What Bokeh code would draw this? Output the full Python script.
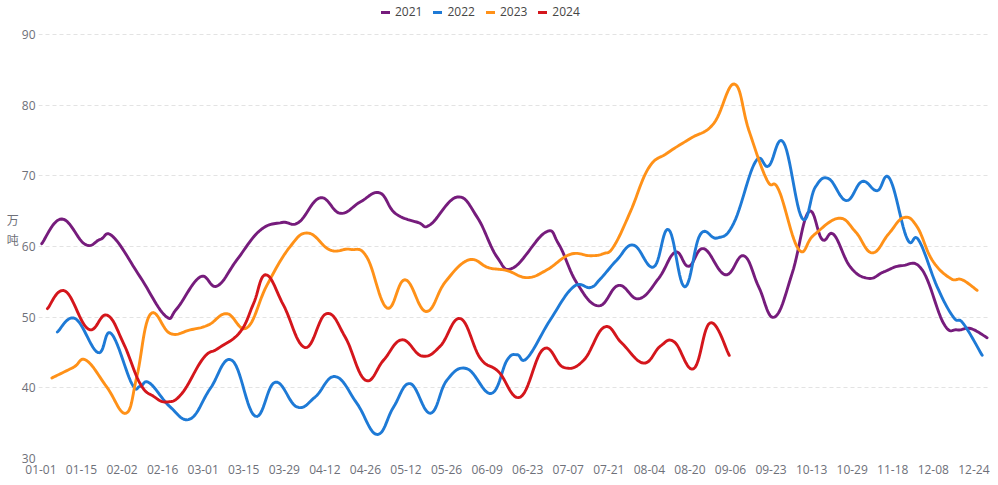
import numpy as np
from bokeh.plotting import figure
from bokeh.models import FixedTicker, Range1d
from bokeh.embed import file_html
from bokeh.resources import INLINE

# ---- data (x in weeks from 01-01, values in 万吨) ----
tick_labels = ["01-01", "01-15", "02-02", "02-16", "03-01", "03-15", "03-29", "04-12",
               "04-26", "05-12", "05-26", "06-09", "06-23", "07-07", "07-21", "08-04",
               "08-20", "09-06", "09-23", "10-13", "10-29", "11-18", "12-08", "12-24"]
tick_pos = [2 * i for i in range(len(tick_labels))]
y_ticks = [30, 40, 50, 60, 70, 80, 90]

x2021 = [0.04, 1.03, 2.18, 2.92, 3.55, 4.89, 6.13, 6.70, 7.85, 8.68, 9.66, 10.81, 11.88, 12.70,
         13.77, 14.76, 15.74, 16.70, 17.47, 18.60, 19.20, 20.51, 21.50, 22.49, 23.30, 24.87,
         25.52, 26.43, 27.50, 28.48, 29.47, 30.46, 31.28, 31.94, 32.68, 33.75, 34.65, 35.39,
         36.16, 37.04, 37.85, 38.52, 39.09, 39.91, 40.81, 41.55, 42.46, 43.45, 44.51, 45.17,
         45.83, 46.65]
y2021 = [60.4, 63.9, 60.3, 61.0, 61.4, 55.7, 50.2, 51.2, 55.7, 54.4, 58.1, 62.3, 63.4, 63.4,
         66.9, 64.7, 66.3, 67.6, 64.7, 63.4, 63.1, 67.0, 64.2, 58.5, 57.0, 62.0,
         60.4, 54.8, 51.6, 54.5, 52.6, 55.5, 59.2, 57.2, 59.7, 56.0, 58.7, 54.3,
         50.0, 56.2, 64.9, 61.0, 61.7, 57.1, 55.5, 56.4, 57.3, 56.7, 49.1, 48.2,
         48.4, 47.1]

x2022 = [0.81, 1.69, 2.81, 3.46, 4.48, 4.89, 5.35, 6.37, 7.36, 8.35, 9.42, 10.56, 11.55, 12.62,
         13.52, 14.51, 15.58, 16.57, 17.39, 18.21, 19.20, 20.02, 21.01, 22.20, 22.98, 23.47,
         23.97, 25.11, 26.26, 27.09, 27.58, 28.40, 29.22, 30.21, 30.95, 31.74, 32.51, 33.34,
         34.16, 35.23, 35.88, 36.62, 37.53, 38.18, 38.84, 39.71, 40.49, 41.23, 41.85, 42.71,
         43.28, 44.19, 44.99, 45.48, 46.41]
y2022 = [47.9, 49.8, 45.0, 47.7, 40.6, 40.2, 40.7, 37.3, 35.6, 39.9, 43.9, 36.0, 40.8, 37.3,
         38.7, 41.6, 37.8, 33.4, 37.3, 40.6, 36.4, 41.1, 42.7, 39.2, 43.9, 44.7,
         44.2, 49.6, 54.3, 54.2, 55.4, 58.1, 60.2, 57.1, 62.4, 54.3, 61.7, 61.2,
         63.3, 72.0, 71.4, 74.7, 64.0, 68.4, 69.6, 66.5, 69.2, 67.9, 69.6, 61.1,
         60.9, 54.3, 50.0, 49.1, 44.6]

x2023 = [0.54, 1.60, 2.23, 3.25, 4.19, 4.73, 5.39, 6.37, 7.36, 8.26, 9.17, 10.16, 11.14, 12.29,
         13.19, 14.26, 15.25, 16.07, 17.06, 17.96, 18.99, 19.94, 21.09, 22.07, 22.98, 23.97,
         24.95, 26.10, 27.09, 27.74, 28.24, 29.06, 29.96, 30.87, 32.02, 33.17, 34.19, 34.90,
         35.80, 36.38, 37.36, 38.10, 39.33, 40.16, 40.98, 41.80, 42.54, 43.20, 43.94, 44.84,
         45.42, 46.16]
y2023 = [41.4, 42.9, 43.9, 40.1, 36.4, 41.6, 50.4, 47.7, 48.2, 48.9, 50.5, 48.5, 54.5, 60.0,
         61.9, 59.5, 59.6, 58.5, 51.3, 55.3, 50.8, 55.0, 58.1, 57.0, 56.6, 55.6,
         56.7, 58.9, 58.7, 59.0, 60.0, 64.9, 71.1, 73.2, 75.3, 77.4, 83.0, 76.5,
         69.4, 68.0, 59.6, 61.6, 64.0, 62.1, 59.1, 61.8, 64.1, 62.8, 58.1, 55.5,
         55.3, 53.8]

x2024 = [0.32, 1.19, 2.34, 3.25, 4.07, 4.89, 5.55, 6.21, 6.95, 8.01, 8.75, 9.82, 10.48, 11.09,
         11.96, 13.03, 14.07, 15.00, 15.99, 16.89, 17.80, 18.79, 19.69, 20.68, 21.66, 22.56,
         23.64, 24.78, 25.77, 26.76, 27.78, 28.65, 29.72, 30.54, 31.23, 32.18, 33.00, 33.94]
y2024 = [51.2, 53.7, 48.3, 50.3, 46.3, 40.6, 38.8, 38.0, 39.2, 44.2, 45.6, 47.9, 51.9, 56.0,
         51.7, 45.7, 50.5, 47.2, 41.1, 43.9, 46.8, 44.5, 45.9, 49.8, 44.2, 42.3,
         38.7, 45.5, 42.9, 43.9, 48.6, 46.3, 43.5, 45.9, 46.5, 42.7, 49.2, 44.6]

series = [("2021", x2021, y2021, "#761C7C"),
          ("2022", x2022, y2022, "#1E7AD6"),
          ("2023", x2023, y2023, "#FF9118"),
          ("2024", x2024, y2024, "#D4161C")]


def smooth(xs, ys, sx=20.3, sy=7.07, t=0.2, n=14):
    P = np.column_stack([np.asarray(xs, float) * sx, np.asarray(ys, float) * sy])
    out = [P[0]]
    m = len(P)
    for i in range(m - 1):
        p0 = P[i - 1] if i > 0 else P[i]
        p1 = P[i]
        p2 = P[i + 1]
        p3 = P[i + 2] if i + 2 < m else P[i + 1]
        c1 = p1 + (p2 - p0) * t
        c2 = p2 - (p3 - p1) * t
        s = np.linspace(0, 1, n)[1:, None]
        seg = ((1 - s) ** 3) * p1 + 3 * ((1 - s) ** 2) * s * c1 + 3 * (1 - s) * s ** 2 * c2 + s ** 3 * p2
        out.extend(seg)
    out = np.array(out)
    return out[:, 0] / sx, out[:, 1] / sy


FONT = "Open Sans"
LABEL_COLOR = "#6E7079"

# the plot area reaches the top edge so that the legend can sit above the 90 line
p = figure(width=990, height=476, output_backend="svg", toolbar_location=None,
           x_range=Range1d(-0.12, 46.82), y_range=Range1d(30, 94.82),
           min_border_left=38, min_border_right=0, min_border_top=0, min_border_bottom=18)
p.outline_line_color = None
p.background_fill_color = "white"

for name, xs, ys, col in series:
    sx, sy = smooth(xs, ys)
    p.line(sx, sy, line_color=col, line_width=2.9, legend_label=name,
           line_join="round", line_cap="round")

# axes
p.xaxis.ticker = FixedTicker(ticks=tick_pos)
p.xaxis.major_label_overrides = {pos: lab for pos, lab in zip(tick_pos, tick_labels)}
p.yaxis.ticker = FixedTicker(ticks=y_ticks)
for ax in (p.xaxis, p.yaxis):
    ax.axis_line_color = None
    ax.major_tick_line_color = None
    ax.minor_tick_line_color = None
    ax.major_tick_out = 0
    ax.major_tick_in = 0
    ax.major_label_text_font = FONT
    ax.major_label_text_font_size = "12px"
    ax.major_label_text_color = LABEL_COLOR
p.xaxis.major_label_standoff = 6
p.yaxis.major_label_standoff = 3
p.yaxis.axis_label = "万\n吨"
p.yaxis.axis_label_orientation = "horizontal"
p.yaxis.axis_label_text_font = "Noto Sans CJK SC"
p.yaxis.axis_label_text_font_size = "12px"
p.yaxis.axis_label_text_font_style = "normal"
p.yaxis.axis_label_text_color = LABEL_COLOR
p.yaxis.axis_label_standoff = 0

p.xgrid.grid_line_color = None
p.ygrid.grid_line_color = "#E3E3E3"
p.ygrid.grid_line_dash = "4 3"
p.ygrid.grid_line_width = 1

# legend
lg = p.legend[0]
lg.orientation = "horizontal"
lg.location = (343, 438)
lg.background_fill_alpha = 0
lg.border_line_color = None
lg.padding = 2
lg.margin = 0
lg.spacing = 11
lg.glyph_width = 9
lg.glyph_height = 12
lg.label_height = 12
lg.label_standoff = 5
lg.label_text_font = FONT
lg.label_text_font_size = "12px"
lg.label_text_color = "#464646"
lg.click_policy = "none"

open("out.html", "w").write(file_html(p, INLINE))
